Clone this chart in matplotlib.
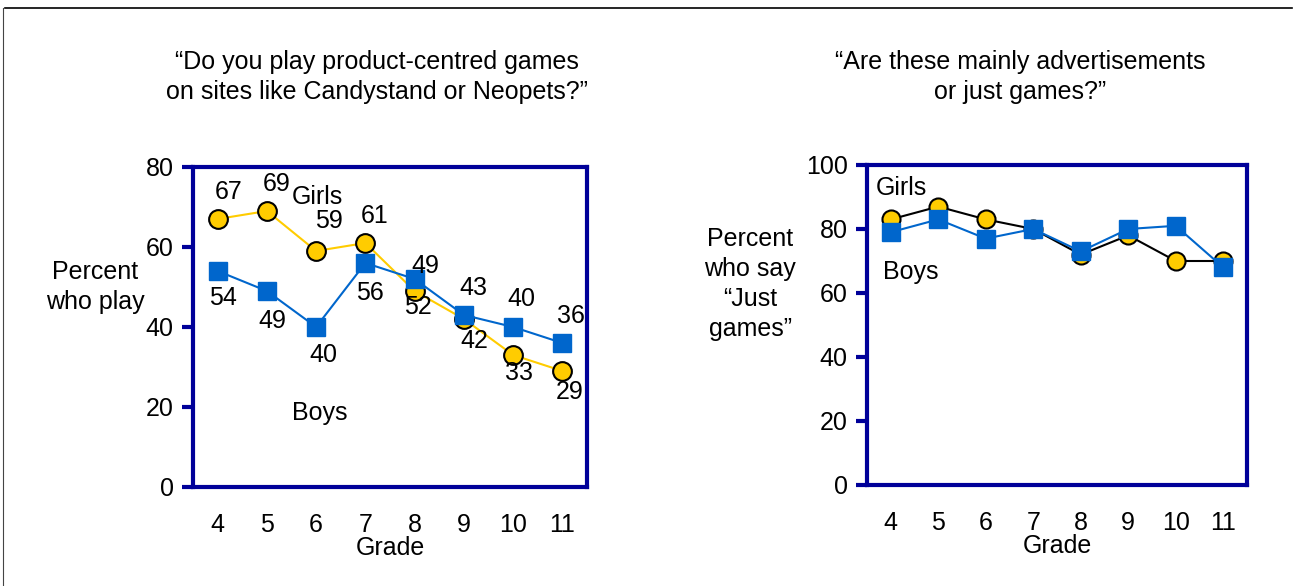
import matplotlib.pyplot as plt
from matplotlib.lines import Line2D

plt.rcParams['font.family'] = ['Liberation Sans', 'DejaVu Sans']

# data
grades = [4, 5, 6, 7, 8, 9, 10, 11]
play_girls = [67, 69, 59, 61, 49, 42, 33, 29]
play_boys = [54, 49, 40, 56, 52, 43, 40, 36]
games_girls = [83, 87, 83, 80, 72, 78, 70, 70]
games_boys = [79, 83, 77, 80, 73, 80, 81, 68]

title_left = '\u201cDo you play product-centred games\non sites like Candystand or Neopets?\u201d'
title_right = '\u201cAre these mainly advertisements\nor just games?\u201d'
ylabel_left = 'Percent\nwho play'
ylabel_right = 'Percent\nwho say\n\u201cJust\ngames\u201d'

GOLD = '#FFCC00'
BLUE = '#0066CC'
NAVY = '#000099'
FS = 18

# label offsets in pixels (dx, dy) for each point
girls_off = [(11, 27), (10, 27), (13, 30), (9, 27), (11, 25), (10, -22), (6, -18), (7, -21)]
boys_off = [(5, -27), (5, -30), (7, -28), (5, -30), (3, -28), (10, 27), (8, 28), (9, 27)]

fig = plt.figure(figsize=(12.99, 5.86), dpi=100)
W, H = 1299, 586


def px_axes(x0, y0, x1, y1):
    return fig.add_axes([x0 / W, 1 - y1 / H, (x1 - x0) / W, (y1 - y0) / H])


def style(ax, ymax):
    for s in ax.spines.values():
        s.set_color(NAVY)
        s.set_linewidth(3)
    ax.set_xlim(3.5, 11.5)
    ax.set_ylim(0, ymax)
    ax.set_xticks(grades)
    ax.set_yticks(range(0, ymax + 1, 20))
    ax.tick_params(axis='x', length=0, pad=19, labelsize=FS)
    ax.tick_params(axis='y', length=8, width=3, color=NAVY, pad=6, labelsize=FS)
    ax.set_xlabel('Grade', fontsize=FS, labelpad=-1)


# left chart
ax1 = px_axes(193, 167, 587, 487)
style(ax1, 80)
ax1.plot(grades, play_girls, color=GOLD, lw=1.5, marker='o', ms=13.5,
         mfc=GOLD, mec='black', mew=1.5, zorder=3)
ax1.plot(grades, play_boys, color=BLUE, lw=1.5, marker='s', ms=13.5,
         mfc=BLUE, mec=BLUE, zorder=4)
for g, v, o in zip(grades, play_girls, girls_off):
    ax1.annotate(str(v), (g, v), xytext=o, textcoords='offset pixels',
                 ha='center', va='center', fontsize=FS, zorder=5)
for g, v, o in zip(grades, play_boys, boys_off):
    ax1.annotate(str(v), (g, v), xytext=o, textcoords='offset pixels',
                 ha='center', va='center', fontsize=FS, zorder=5)
ax1.text(5.51, 72.5, 'Girls', fontsize=FS, ha='left', va='center')
ax1.text(5.51, 18.5, 'Boys', fontsize=FS, ha='left', va='center')

# right chart
ax2 = px_axes(867, 165, 1247, 485)
style(ax2, 100)
ax2.plot(grades, games_girls, color='black', lw=1.5, marker='o', ms=13,
         mfc=GOLD, mec='black', mew=1.5, zorder=3)
ax2.plot(grades, games_boys, color=BLUE, lw=1.5, marker='s', ms=13.5,
         mfc=BLUE, mec=BLUE, zorder=4)
ax2.text(3.69, 92.8, 'Girls', fontsize=FS, ha='left', va='center')
ax2.text(3.84, 66.6, 'Boys', fontsize=FS, ha='left', va='center')

# titles and y labels
fig.text(377 / W, 1 - 77 / H, title_left, ha='center', va='center',
         fontsize=FS, linespacing=1.32)
fig.text(1020 / W, 1 - 77 / H, title_right, ha='center', va='center',
         fontsize=FS, linespacing=1.32)
fig.text(95 / W, 1 - 287 / H, ylabel_left, ha='center', va='center',
         fontsize=FS, linespacing=1.32)
fig.text(750 / W, 1 - 284 / H, ylabel_right, ha='center', va='center',
         fontsize=FS, linespacing=1.32)

# slide frame
fig.add_artist(Line2D([5 / W, 1292 / W], [1 - 8 / H, 1 - 8 / H],
                      color='black', lw=1.2))
fig.add_artist(Line2D([3 / W, 3 / W], [1 - 8 / H, 0], color='#444444', lw=0.8))

fig.savefig('out.png', dpi=100)
